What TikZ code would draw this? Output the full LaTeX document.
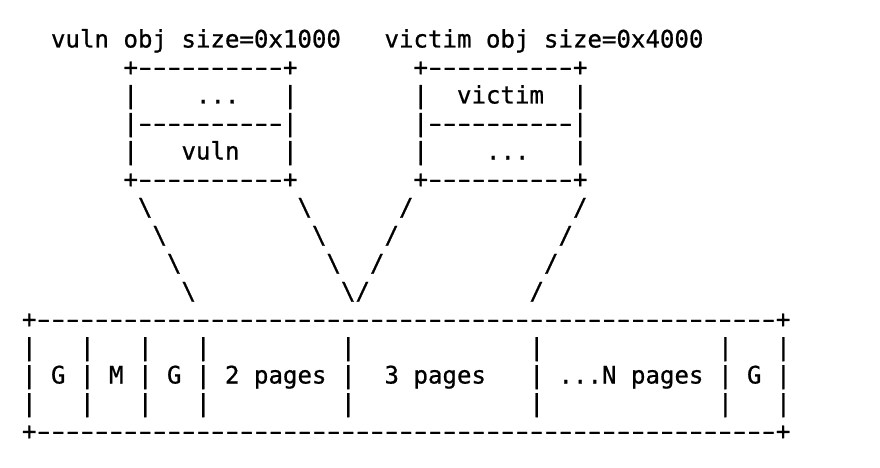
\documentclass[tikz,border=0pt]{standalone}
\usepackage{fontspec}
\setmonofont{DejaVu Sans Mono}[FakeBold=0.8]

% a wide hyphen, kept in its own character cell
\newcommand{\hy}{\makebox[\fontcharwd\font`-][c]{\scalebox{1.6}[1]{-}}}
\newcommand{\dashrow}[1]{\foreach \i in {1,...,#1}{\hy}}

\begin{document}
\begin{tikzpicture}[x=1pt,y=-1pt,
  glyphs/.style={anchor=base west,inner sep=0pt,outer sep=0pt,
    font=\ttfamily\fontsize{24.08}{28}\selectfont}]

  % Character grid: cell width, line pitch, origin of column 0 / first baseline
  \def\cw{14.5} \def\lh{28}
  \def\xo{22} \def\yo{47.5}

  \useasboundingbox (0,0) rectangle (880,468);

  % --- Object labels ---
  \node[glyphs] (vulnlabel)   at (\xo+2*\cw,\yo)  {vuln obj size=0x1000};
  \node[glyphs] (victimlabel) at (\xo+25*\cw,\yo) {victim obj size=0x4000};

  % --- Frames of the two objects ---
  \foreach \c/\n in {7/vuln,27/victim} {
    \node[glyphs] (\n top) at (\xo+\c*\cw,\yo+1*\lh) {+\dashrow{10}+};
    \node[glyphs] (\n sep) at (\xo+\c*\cw,\yo+3*\lh) {|\dashrow{10}|};
    \node[glyphs] (\n bot) at (\xo+\c*\cw,\yo+5*\lh) {+\dashrow{10}+};
    \foreach \r in {2,4} {
      \node[glyphs] (\n l\r) at (\xo+\c*\cw,\yo+\r*\lh) {|};
      \node[glyphs] (\n r\r) at (\xo+\c*\cw+11*\cw,\yo+\r*\lh) {|};
    }
  }
  \node[glyphs] (vulnrest)   at (\xo+12*\cw,\yo+2*\lh) {...};
  \node[glyphs] (vulnslot)   at (\xo+11*\cw,\yo+4*\lh) {vuln};
  \node[glyphs] (victimslot) at (\xo+30*\cw,\yo+2*\lh) {victim};
  \node[glyphs] (victimrest) at (\xo+32*\cw,\yo+4*\lh) {...};

  % --- Legs down to the heap ---
  \foreach \r in {0,...,3} {
    \node[glyphs] (vulnlegl\r)   at (\xo+8*\cw+\r*\cw,\yo+6*\lh+\r*\lh)  {\textbackslash};
    \node[glyphs] (vulnlegr\r)   at (\xo+19*\cw+\r*\cw,\yo+6*\lh+\r*\lh) {\textbackslash};
    \node[glyphs] (victimlegl\r) at (\xo+26*\cw-\r*\cw,\yo+6*\lh+\r*\lh) {/};
    \node[glyphs] (victimlegr\r) at (\xo+38*\cw-\r*\cw,\yo+6*\lh+\r*\lh) {/};
  }

  % --- Heap pages ---
  \node[glyphs] (heaptop) at (\xo,\yo+10*\lh) {+\dashrow{51}+};
  \node[glyphs] (heapbot) at (\xo,\yo+14*\lh) {+\dashrow{51}+};
  \foreach \c in {0,4,8,12,22,35,48,52} {
    \foreach \r in {11,12,13} {
      \node[glyphs] (bar\c-\r) at (\xo+\c*\cw,\yo+\r*\lh) {|};
    }
  }
  \node[glyphs] (guard1)     at (\xo+2*\cw,\yo+12*\lh)  {G};
  \node[glyphs] (meta)       at (\xo+6*\cw,\yo+12*\lh)  {M};
  \node[glyphs] (guard2)     at (\xo+10*\cw,\yo+12*\lh) {G};
  \node[glyphs] (twopages)   at (\xo+14*\cw,\yo+12*\lh) {2 pages};
  \node[glyphs] (threepages) at (\xo+25*\cw,\yo+12*\lh) {3 pages};
  \node[glyphs] (npages)     at (\xo+37*\cw,\yo+12*\lh) {...N pages};
  \node[glyphs] (guard3)     at (\xo+50*\cw,\yo+12*\lh) {G};

\end{tikzpicture}
\end{document}
